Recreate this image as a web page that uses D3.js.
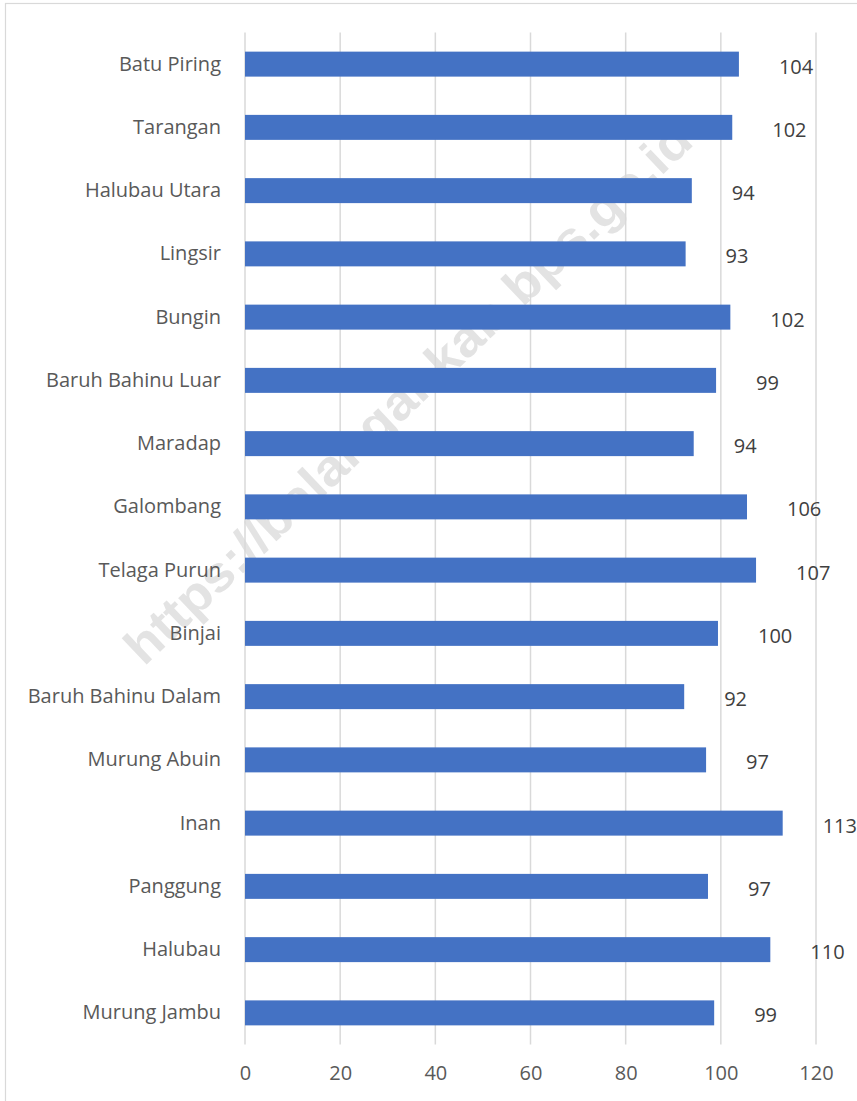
<!DOCTYPE html>
<html>
<head>
<meta charset="utf-8">
<script src="https://cdn.jsdelivr.net/npm/d3@7"></script>
<style>
  body { margin: 0; background: #fff; }
  svg { display: block; font-family: "Open Sans", "Noto Sans", sans-serif; }
</style>
</head>
<body>
<svg id="chart" width="857" height="1101"></svg>
<script>
const villages = ["Batu Piring", "Tarangan", "Halubau Utara", "Lingsir", "Bungin",
  "Baruh Bahinu Luar", "Maradap", "Galombang", "Telaga Purun", "Binjai",
  "Baruh Bahinu Dalam", "Murung Abuin", "Inan", "Panggung", "Halubau", "Murung Jambu"];
const values = [103.8, 102.4, 93.9, 92.6, 102.0, 99.0, 94.3, 105.5, 107.4, 99.4,
  92.3, 96.9, 113.0, 97.3, 110.4, 98.6];
const valueLabels = ["104", "102", "94", "93", "102", "99", "94", "106", "107", "100",
  "92", "97", "113", "97", "110", "99"];
const xTicks = [0, 20, 40, 60, 80, 100, 120];

const svg = d3.select("#chart");
const width = 857, height = 1101;
const margin = { top: 32.5, right: 41, bottom: 56.5, left: 245 };

// chart border
svg.append("rect")
  .attr("x", 5.5).attr("y", 3.5)
  .attr("width", width + 10).attr("height", height + 10)
  .attr("fill", "#fff")
  .attr("stroke", "#d9d9d9")
  .attr("stroke-width", 1.2);

// watermark behind everything
svg.append("text")
  .attr("transform", "translate(408,393) rotate(-43.5)")
  .attr("text-anchor", "middle")
  .attr("dominant-baseline", "central")
  .attr("font-family", "'Liberation Sans', Arial, sans-serif")
  .attr("font-weight", "bold")
  .attr("font-size", 50)
  .attr("textLength", 760)
  .attr("lengthAdjust", "spacingAndGlyphs")
  .attr("fill", "#e3e3e3")
  .text("https://balangankab.bps.go.id");

const x = d3.scaleLinear()
  .domain([0, 120])
  .range([margin.left, width - margin.right]);

const y = d3.scaleBand()
  .domain(villages)
  .range([margin.top, height - margin.bottom])
  .paddingInner(0.605)
  .paddingOuter(0.3025);

// gridlines
svg.append("g")
  .selectAll("line")
  .data(xTicks)
  .join("line")
  .attr("x1", d => x(d)).attr("x2", d => x(d))
  .attr("y1", margin.top).attr("y2", height - margin.bottom)
  .attr("stroke", "#d9d9d9")
  .attr("stroke-width", 1.5);

// x axis labels
const xAxis = svg.append("g")
  .attr("transform", `translate(0,${height - margin.bottom})`)
  .call(d3.axisBottom(x).tickValues(xTicks).tickSize(0).tickPadding(21));
xAxis.select(".domain").remove();
xAxis.selectAll("text")
  .attr("font-family", "'Open Sans', sans-serif")
  .attr("font-size", 20)
  .attr("fill", "#595959");

// y axis labels
const yAxis = svg.append("g")
  .attr("transform", `translate(${margin.left},0)`)
  .call(d3.axisLeft(y).tickSize(0).tickPadding(24));
yAxis.select(".domain").remove();
yAxis.selectAll("text")
  .attr("font-family", "'Open Sans', sans-serif")
  .attr("font-size", 20)
  .attr("fill", "#595959");

// bars
svg.append("g")
  .selectAll("rect")
  .data(villages)
  .join("rect")
  .attr("x", x(0))
  .attr("y", d => y(d))
  .attr("width", (d, i) => x(values[i]) - x(0))
  .attr("height", y.bandwidth())
  .attr("fill", "#4472c4");

// data labels
svg.append("g")
  .selectAll("text")
  .data(villages)
  .join("text")
  .attr("x", (d, i) => x(values[i]) + 40)
  .attr("y", d => y(d) + y.bandwidth() / 2 + 2)
  .attr("dominant-baseline", "central")
  .attr("font-family", "'Open Sans', sans-serif")
  .attr("font-size", 20)
  .attr("fill", "#404040")
  .text((d, i) => valueLabels[i]);
</script>
</body>
</html>
